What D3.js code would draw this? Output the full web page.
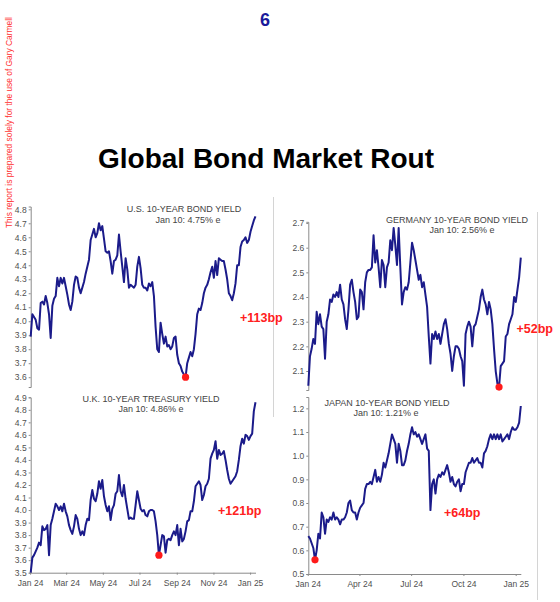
<!DOCTYPE html>
<html>
<head>
<meta charset="utf-8">
<script src="https://cdn.jsdelivr.net/npm/d3@7"></script>
<style>
  body { margin: 0; background: #fff; }
  text { font-family: "Liberation Sans", Arial, sans-serif; }
</style>
</head>
<body>
<svg id="chart" width="560" height="602"></svg>
<script>
// daily-ish readings, evenly spaced from Jan 2 2024 to Jan 10 2025
const startDate = new Date(2024, 0, 2);
const endDate = new Date(2025, 0, 10);

const usYield = [3.89,4.05,4.03,4.01,3.95,3.94,4.13,4.14,4.12,4.18,4.13,4.05,3.88,4.11,4.16,4.18,4.31,4.25,4.31,4.27,
  4.31,4.25,4.19,4.12,4.08,4.14,4.26,4.32,4.31,4.24,4.2,4.24,4.28,4.34,4.39,4.44,4.58,4.62,4.66,4.6,
  4.63,4.7,4.65,4.68,4.59,4.5,4.49,4.5,4.43,4.34,4.43,4.44,4.47,4.62,4.5,4.39,4.28,4.45,4.37,4.24,
  4.26,4.25,4.24,4.26,4.39,4.46,4.38,4.26,4.24,4.24,4.22,4.27,4.25,4.28,4.18,3.96,3.8,3.78,3.99,3.91,
  3.84,3.89,3.82,3.83,3.8,3.82,3.88,3.89,3.76,3.7,3.68,3.64,3.62,3.6,3.7,3.74,3.78,3.75,3.8,3.91,
  4.05,4.09,4.08,4.13,4.2,4.24,4.26,4.3,4.35,4.39,4.31,4.43,4.33,4.45,4.44,4.43,4.43,4.37,4.3,4.2,
  4.18,4.15,4.2,4.27,4.4,4.4,4.53,4.57,4.58,4.6,4.56,4.58,4.64,4.68,4.72,4.75];

const deYield = [2.04,2.16,2.19,2.23,2.21,2.34,2.29,2.33,2.28,2.27,2.15,2.3,
  2.33,2.39,2.38,2.41,2.4,2.42,2.4,2.45,2.39,2.37,2.31,2.27,2.35,2.45,2.47,2.42,2.38,2.31,2.32,2.43,
  2.42,2.35,2.46,2.5,2.51,2.51,2.52,2.65,2.54,2.59,2.52,2.44,2.55,2.53,2.44,2.52,2.54,2.63,2.59,2.68,
  2.61,2.53,2.68,2.52,2.37,2.42,2.44,2.43,2.46,2.54,2.62,2.59,2.55,2.51,2.47,2.49,2.44,2.46,2.41,2.36,
  2.24,2.13,2.25,2.23,2.26,2.23,2.25,2.21,2.25,2.29,2.31,2.27,2.21,2.17,2.1,2.16,2.2,2.2,2.19,2.16,2.14,
  2.04,2.25,2.28,2.3,2.28,2.2,2.28,2.29,2.32,2.35,2.4,2.43,2.39,2.37,2.33,2.38,2.35,2.29,2.19,2.1,2.05,
  2.035,2.12,2.13,2.14,2.24,2.25,2.29,2.31,2.33,2.4,2.38,2.43,2.48,2.56];

const ukYield = [3.5,3.62,3.64,3.67,3.7,3.74,3.72,3.87,3.84,3.85,3.88,3.64,3.88,3.93,3.99,
  4.05,4.03,4.0,4.03,3.99,4.05,3.99,3.95,3.88,3.84,3.81,3.87,3.96,3.93,3.85,3.8,3.83,3.8,3.88,3.93,
  3.92,4.08,4.16,4.09,4.07,4.13,4.23,4.17,4.24,4.11,4.04,3.99,4.03,3.92,4.01,4.04,4.13,4.15,4.28,4.15,
  4.11,4.2,4.09,4.01,3.93,3.94,3.93,3.93,4.04,4.15,4.08,4.01,3.99,4.0,3.96,3.95,3.99,4.0,4.0,3.99,3.91,
  3.8,3.64,3.72,3.8,3.79,3.66,3.76,
  3.77,3.76,3.8,3.83,3.8,3.88,3.72,3.85,3.75,3.77,3.83,3.91,3.92,3.99,3.99,4.07,4.19,4.21,4.23,4.2,
  4.08,4.12,4.19,4.21,4.25,4.41,4.45,4.48,4.55,4.41,4.48,4.44,4.45,4.47,4.4,4.32,4.25,4.21,4.23,4.25,
  4.27,4.31,4.4,4.51,4.57,4.53,4.6,4.59,4.56,4.59,4.61,4.79,4.86];

const jpYield = [0.66,0.65,0.63,0.61,0.56,0.6,0.67,0.65,0.76,0.74,0.67,0.73,0.72,
  0.74,0.73,0.76,0.73,0.74,0.73,0.71,0.73,0.73,0.74,0.76,0.8,0.81,0.77,0.76,0.76,0.73,0.76,0.78,0.79,
  0.8,0.86,0.88,0.88,0.89,0.88,0.91,0.94,0.89,0.91,0.89,0.92,0.97,0.95,0.98,1.01,1.05,1.09,1.07,1.05,
  0.97,1.05,1.02,0.96,0.96,0.98,1.02,1.05,1.09,1.12,1.09,1.1,1.08,1.09,1.07,1.05,1.07,1.09,1.03,1.02,
  0.77,0.88,0.9,0.84,0.9,
  0.92,0.91,0.93,0.92,0.94,0.96,0.93,0.89,0.91,0.88,0.87,0.89,0.9,0.85,0.88,0.88,0.93,0.95,0.97,0.97,
  0.99,0.97,0.98,0.99,0.97,0.97,0.95,1.01,1.02,1.04,1.07,1.09,1.07,1.09,1.07,1.09,1.07,1.09,1.06,1.07,
  1.08,1.09,1.07,1.1,1.12,1.11,1.11,1.12,1.14,1.21];

const panelTitles = ["U.S. 10-YEAR BOND YIELD", "GERMANY 10-YEAR BOND YIELD", "U.K. 10-YEAR TREASURY YIELD", "JAPAN 10-YEAR BOND YIELD"];
const panelNotes = ["Jan 10: 4.75% e", "Jan 10: 2.56% e", "Jan 10: 4.86% e", "Jan 10: 1.21% e"];
const changeLabels = ["+113bp", "+52bp", "+121bp", "+64bp"];
const lowDates = ["2024-09-16", "2024-12-02", "2024-08-03", "2024-01-15"];

const usTicks = [3.6, 3.7, 3.8, 3.9, 4.0, 4.1, 4.2, 4.3, 4.4, 4.5, 4.6, 4.7, 4.8];
const deTicks = [2.1, 2.2, 2.3, 2.4, 2.5, 2.6, 2.7];
const ukTicks = [3.5, 3.6, 3.7, 3.8, 3.9, 4.0, 4.1, 4.2, 4.3, 4.4, 4.5, 4.6, 4.7, 4.8, 4.9];
const jpTicks = [0.5, 0.6, 0.7, 0.8, 0.9, 1.0, 1.1, 1.2];

const ukMonthTicks = ["2024-01-01", "2024-03-01", "2024-05-01", "2024-07-01", "2024-09-01", "2024-11-01", "2025-01-01"];
const jpMonthTicks = ["2024-01-01", "2024-04-01", "2024-07-01", "2024-10-01", "2025-01-01"];

const parseDay = d3.timeParse("%Y-%m-%d");

// layout of the four panels
const panels = [
  { data: usYield, ticks: usTicks, xl: 30.7, xr: 255.5, yTop: 206.5, yBot: 387, dom: [3.53, 4.82],
    title: [184, 212, 188, 222.5], note: [240, 321.5], months: null },
  { data: deYield, ticks: deTicks, xl: 308.3, xr: 520.8, yTop: 221.8, yBot: 390, dom: [2.023, 2.705],
    title: [457, 223, 462, 232.5], note: [516.5, 333], months: null },
  { data: ukYield, ticks: ukTicks, xl: 30.7, xr: 255.5, yTop: 397.3, yBot: 572.7, dom: [3.5, 4.9],
    title: [151, 401.5, 151, 412], note: [218, 515], months: ukMonthTicks },
  { data: jpYield, ticks: jpTicks, xl: 308.3, xr: 520.8, yTop: 397, yBot: 574, dom: [0.5, 1.248],
    title: [387, 405.5, 386, 415.5], note: [444, 517], months: jpMonthTicks }
];

const svg = d3.select("#chart");

// light panel borders
svg.append("line").attr("x1", 273.5).attr("x2", 273.5).attr("y1", 197).attr("y2", 417)
  .attr("stroke", "#d4d4d4").attr("stroke-width", 1);
svg.append("line").attr("x1", 537.5).attr("x2", 537.5).attr("y1", 212).attr("y2", 600)
  .attr("stroke", "#d4d4d4").attr("stroke-width", 1);

panels.forEach((p, i) => {
  const g = svg.append("g");
  const n = p.data.length;
  const when = d3.scaleLinear().domain([0, n - 1]).range([+startDate, +endDate]);
  const points = p.data.map((v, k) => ({ date: new Date(when(k)), value: v }));

  const x = d3.scaleTime().domain([startDate, endDate]).range([p.xl, p.xr]);
  const y = d3.scaleLinear().domain(p.dom).range([p.yBot, p.yTop]);

  const yAxis = g.append("g")
    .attr("transform", `translate(${p.xl},0)`)
    .call(d3.axisLeft(y).tickValues(p.ticks).tickFormat(d3.format(".1f")).tickSize(2).tickPadding(2));
  yAxis.select(".domain").attr("stroke", "#8a8a8a");
  yAxis.selectAll(".tick line").attr("stroke", "#8a8a8a");
  yAxis.selectAll(".tick text").attr("fill", "#505050").style("font-size", "8.5px");

  if (p.months) {
    const xAxis = g.append("g")
      .attr("transform", `translate(0,${p.yBot})`)
      .call(d3.axisBottom(x).tickValues(p.months.map(parseDay)).tickFormat(d3.timeFormat("%b %y"))
        .tickSizeInner(2).tickSizeOuter(0).tickPadding(5));
    xAxis.select(".domain").attr("stroke", "#8a8a8a");
    xAxis.selectAll(".tick line").attr("stroke", "#8a8a8a");
    xAxis.selectAll(".tick text").attr("fill", "#505050").style("font-size", "8.5px");
  }

  g.append("path")
    .datum(points)
    .attr("fill", "none")
    .attr("stroke", "#1b1b8a")
    .attr("stroke-width", 2)
    .attr("stroke-linejoin", "round")
    .attr("d", d3.line().x(d => x(d.date)).y(d => y(d.value)));

  // low point marker: lowest reading within two weeks of the marked date
  const target = parseDay(lowDates[i]);
  const near = points.filter(d => Math.abs(d.date - target) <= 12 * 864e5);
  const low = d3.least(near, d => d.value);
  g.append("circle")
    .attr("cx", x(low.date)).attr("cy", y(low.value)).attr("r", 3.6)
    .attr("fill", "#ff1a1a");

  g.append("text").attr("x", p.title[0]).attr("y", p.title[1])
    .attr("text-anchor", "middle").attr("fill", "#444").style("font-size", "9px")
    .text(panelTitles[i]);
  g.append("text").attr("x", p.title[2]).attr("y", p.title[3])
    .attr("text-anchor", "middle").attr("fill", "#444").style("font-size", "9px")
    .text(panelNotes[i]);

  g.append("text").attr("x", p.note[0]).attr("y", p.note[1])
    .attr("fill", "#ff2020").style("font-size", "12.5px").style("font-weight", "bold")
    .text(changeLabels[i]);
});

// headings
svg.append("text").attr("x", 265).attr("y", 26).attr("text-anchor", "middle")
  .attr("fill", "#1a1a9a").style("font-size", "18px").style("font-weight", "bold").text("6");

svg.append("text").attr("x", 266).attr("y", 168).attr("text-anchor", "middle")
  .attr("fill", "#000").style("font-size", "28px").style("font-weight", "bold")
  .text("Global Bond Market Rout");

svg.append("text")
  .attr("transform", "translate(12,228) rotate(-90)")
  .attr("fill", "#ff3030").style("font-size", "8.4px")
  .text("This report is prepared solely for the use of Gary Carmell");
</script>
</body>
</html>
